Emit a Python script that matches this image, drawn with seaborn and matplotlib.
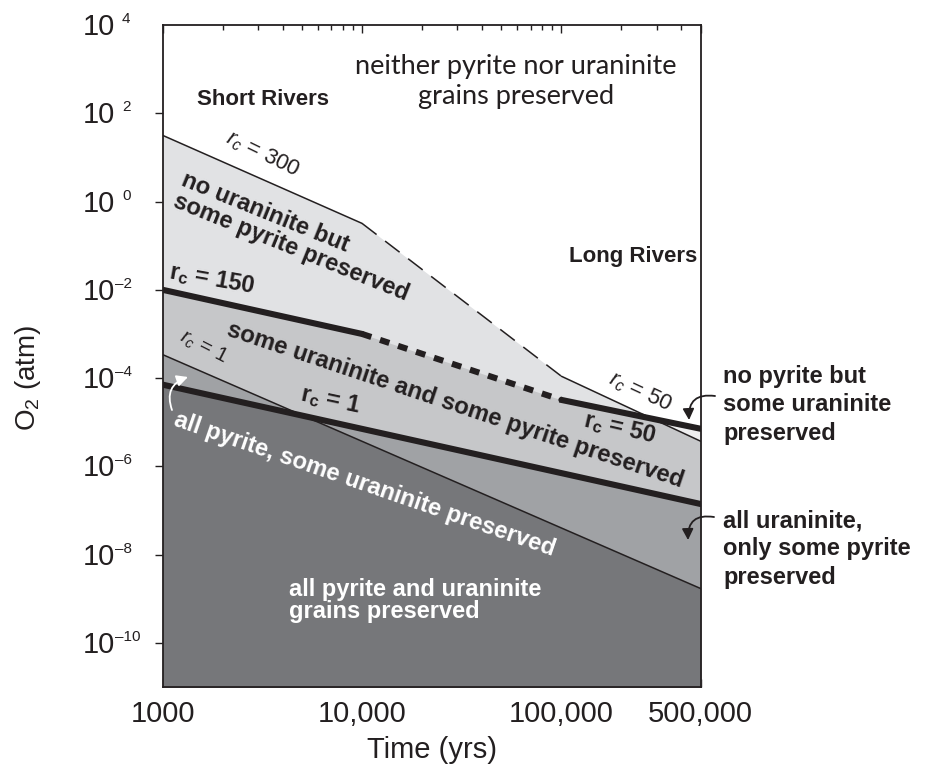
import numpy as np
import pandas as pd
import matplotlib
matplotlib.use("Agg")
import matplotlib.pyplot as plt
from matplotlib.ticker import FixedLocator, FixedFormatter, LogLocator, NullFormatter, NullLocator
import seaborn as sns

# --- boundary data -------------------------------------------------------
# time axis break points (yrs)
time_breaks = [1e3, 1e4, 1e5, 5e5]
# upper pyrite boundary (r_c = 300 short rivers, r_c = 50 long rivers)
pyrite_upper = [31.6, 0.32, 1.1e-4, 3.7e-6]
# upper uraninite boundary (r_c = 150 short rivers, r_c = 50 long rivers)
uraninite_upper = [1.0e-2, 1.0e-3, 3.2e-5, 7.1e-6]
# lower boundaries (r_c = 1)
time_ends = [1e3, 5e5]
pyrite_lower = [3.4e-4, 1.7e-9]
uraninite_lower = [7.1e-5, 1.4e-7]

x_ticks = [1e3, 1e4, 1e5, 5e5]
x_ticklabels = ["1000", "10,000", "100,000", "500,000"]
y_exponents = [4, 2, 0, -2, -4, -6, -8, -10]

# --- style ----------------------------------------------------------------
sns.set_theme(style="white")
ink = "#231f20"
plt.rcParams["font.family"] = ["Liberation Sans", "DejaVu Sans"]
plt.rcParams["mathtext.fontset"] = "custom"
plt.rcParams["mathtext.rm"] = "Liberation Sans"
plt.rcParams["mathtext.it"] = "Liberation Sans:italic"
plt.rcParams["mathtext.bf"] = "Liberation Sans:bold"
plt.rcParams["text.color"] = ink
plt.rcParams["axes.edgecolor"] = ink
plt.rcParams["xtick.color"] = ink
plt.rcParams["ytick.color"] = ink
plt.rcParams["axes.labelcolor"] = ink

c_white_wedge = "#eeeeef"
c_light = "#e1e2e4"
c_mid = "#c6c7c9"
c_gray = "#a0a2a5"
c_dark = "#76777a"

fig = plt.figure(figsize=(9.28, 7.72), dpi=100)
ax = fig.add_axes([0.1753, 0.1101, 0.5798, 0.8575])
ax.set_xscale("log")
ax.set_yscale("log")
ax.set_xlim(1e3, 5e5)
ax.set_ylim(1e-11, 1e4)

# --- shaded preservation fields -----------------------------------------
lt = np.log10(time_breaks)
grid = np.sort(np.unique(np.concatenate([np.linspace(lt[0], lt[-1], 800), lt])))
t = 10 ** grid
pu = 10 ** np.interp(grid, lt, np.log10(pyrite_upper))
uu = 10 ** np.interp(grid, lt, np.log10(uraninite_upper))
pl = 10 ** np.interp(grid, np.log10(time_ends), np.log10(pyrite_lower))
ul = 10 ** np.interp(grid, np.log10(time_ends), np.log10(uraninite_lower))
floor = np.full_like(t, 1e-12)

ax.fill_between(t, floor, np.maximum(pu, uu), color=c_light, lw=0)
ax.fill_between(t, pu, uu, where=uu > pu, color=c_white_wedge, lw=0)
ax.fill_between(t, floor, np.minimum(pu, uu), color=c_mid, lw=0)
ax.fill_between(t, floor, np.maximum(pl, ul), color=c_gray, lw=0)
ax.fill_between(t, floor, np.minimum(pl, ul), color=c_dark, lw=0)

# --- boundary lines -------------------------------------------------------
thin = 1.1
thick = 4.4
def seg(xs, ys, lw, ls="-"):
    df = pd.DataFrame({"time": xs, "o2": ys})
    sns.lineplot(data=df, x="time", y="o2", ax=ax, color=ink, lw=lw,
                 linestyle=ls, estimator=None, sort=False, legend=False)

seg(time_breaks[0:2], pyrite_upper[0:2], thin)
seg(time_breaks[1:3], pyrite_upper[1:3], thin, (0, (12, 7)))
seg(time_breaks[2:4], pyrite_upper[2:4], thin)
seg(time_breaks[0:2], uraninite_upper[0:2], thick)
seg(time_breaks[1:3], uraninite_upper[1:3], thick, (0, (1.6, 1.5)))
seg(time_breaks[2:4], uraninite_upper[2:4], thick)
seg(time_ends, pyrite_lower, thin)
seg(time_ends, uraninite_lower, thick)
ax.set_xlim(1e3, 5e5)
ax.set_ylim(1e-11, 1e4)

# --- axes, ticks ----------------------------------------------------------
for s in ax.spines.values():
    s.set_linewidth(1.3)
    s.set_color(ink)
    s.set_zorder(5)
ax.xaxis.set_major_locator(FixedLocator(x_ticks))
ax.xaxis.set_major_formatter(FixedFormatter(x_ticklabels))
ax.xaxis.set_minor_locator(LogLocator(base=10, subs=np.arange(2, 10)))
ax.xaxis.set_minor_formatter(NullFormatter())
ax.tick_params(axis="x", which="both", direction="in", top=True, bottom=True,
               labelsize=21, pad=9, width=1.0)
ax.tick_params(axis="x", which="major", length=6)
ax.tick_params(axis="x", which="minor", length=3.6)
# the 10^4 level sits on the top spine, so it carries no tick mark
ax.yaxis.set_major_locator(FixedLocator([10.0 ** e for e in y_exponents if e < 4]))
ax.yaxis.set_minor_locator(NullLocator())
ax.tick_params(axis="y", which="major", direction="out", left=True, right=False,
               length=6, width=1.0, labelleft=False)

ytr = ax.get_yaxis_transform()
for e in y_exponents:
    ax.annotate("10", xy=(-0.148, 10.0 ** e), xycoords=ytr, xytext=(0, -10),
                textcoords="offset pixels", ha="left", va="baseline",
                fontsize=21, annotation_clip=False)
    sup = ("\u2013" + str(-e)) if e < 0 else str(e)
    dx = 32 if e < 0 else 39
    ax.annotate(sup, xy=(-0.148, 10.0 ** e), xycoords=ytr, xytext=(dx, 2),
                textcoords="offset pixels", ha="left", va="baseline",
                fontsize=11, annotation_clip=False)

ax.set_xlabel("Time (yrs)", fontsize=21, labelpad=6)
ax.set_ylabel("")
fig.text(28 / 928, 1 - 378 / 772, "O$_2$ (atm)", rotation=90, ha="center",
         va="center", fontsize=20)

# --- field labels ---------------------------------------------------------
def lab(x, y, s, rot=0, size=16, weight="bold", color=ink, family=None, **kw):
    kws = dict(transform=ax.transAxes, rotation=rot, rotation_mode="anchor",
               ha=kw.pop("ha", "center"), va=kw.pop("va", "center"),
               fontsize=size, fontweight=weight, color=color, zorder=6)
    if family:
        kws["family"] = family
    kws.update(kw)
    return ax.text(x, y, s, **kws)

lab(0.657, 0.914, "neither pyrite nor uraninite\ngrains preserved", size=19.5,
    weight="normal", family=["Lato", "DejaVu Sans"], linespacing=1.25)
lab(0.1865, 0.887, "Short Rivers", size=16)
lab(0.993, 0.651, "Long Rivers", size=16, ha="right")
lab(0.1865, 0.805, "$r_c$ = 300", rot=-26, size=16, weight="normal")
lab(0.2459, 0.6798, "no uraninite but\nsome pyrite preserved", rot=-22, size=17,
    linespacing=1.0, multialignment="left")
lab(0.0916, 0.616, r"$\mathbf{r}_\mathbf{c}$ = 150", rot=-10, size=17)
lab(0.5433, 0.426, "some uraninite and some pyrite preserved", rot=-18.5, size=17.2)
lab(0.0767, 0.5136, "$r_c$ = 1", rot=-27, size=15, weight="normal")
lab(0.311, 0.4335, r"$\mathbf{r}_\mathbf{c}$ = 1", rot=-12, size=17)
lab(0.376, 0.3066, "all pyrite, some uraninite preserved", rot=-19, size=17.2,
    color="white")
lab(0.887, 0.4456, "$r_c$ = 50", rot=-25, size=16, weight="normal")
lab(0.850, 0.391, r"$\mathbf{r}_\mathbf{c}$ = 50", rot=-13, size=17)
lab(0.235, 0.131, "all pyrite and uraninite\ngrains preserved", size=17,
    color="white", ha="left", linespacing=0.95)
lab(1.0415, 0.426, "no pyrite but\nsome uraninite\npreserved", size=17,
    ha="left", linespacing=1.28, clip_on=False)
lab(1.0415, 0.2085, "all uraninite,\nonly some pyrite\npreserved", size=17,
    ha="left", linespacing=1.28, clip_on=False)

# curved pointer arrows
arrow_kw = dict(arrowstyle="-|>,head_length=0.55,head_width=0.28", lw=1.3,
                shrinkA=0, shrinkB=0)
ax.annotate("", xy=(0.9783, 0.4033), xytext=(1.0266, 0.4396),
            xycoords="axes fraction", annotation_clip=False,
            arrowprops=dict(color=ink, connectionstyle="arc3,rad=0.6", **arrow_kw))
ax.annotate("", xy=(0.9764, 0.222), xytext=(1.0247, 0.2568),
            xycoords="axes fraction", annotation_clip=False,
            arrowprops=dict(color=ink, connectionstyle="arc3,rad=0.6", **arrow_kw))
ax.annotate("", xy=(0.047, 0.4683), xytext=(0.0173, 0.4184),
            xycoords="axes fraction", annotation_clip=False,
            arrowprops=dict(color="white", connectionstyle="arc3,rad=-0.5", **arrow_kw))

fig.savefig("out.png", dpi=100)
